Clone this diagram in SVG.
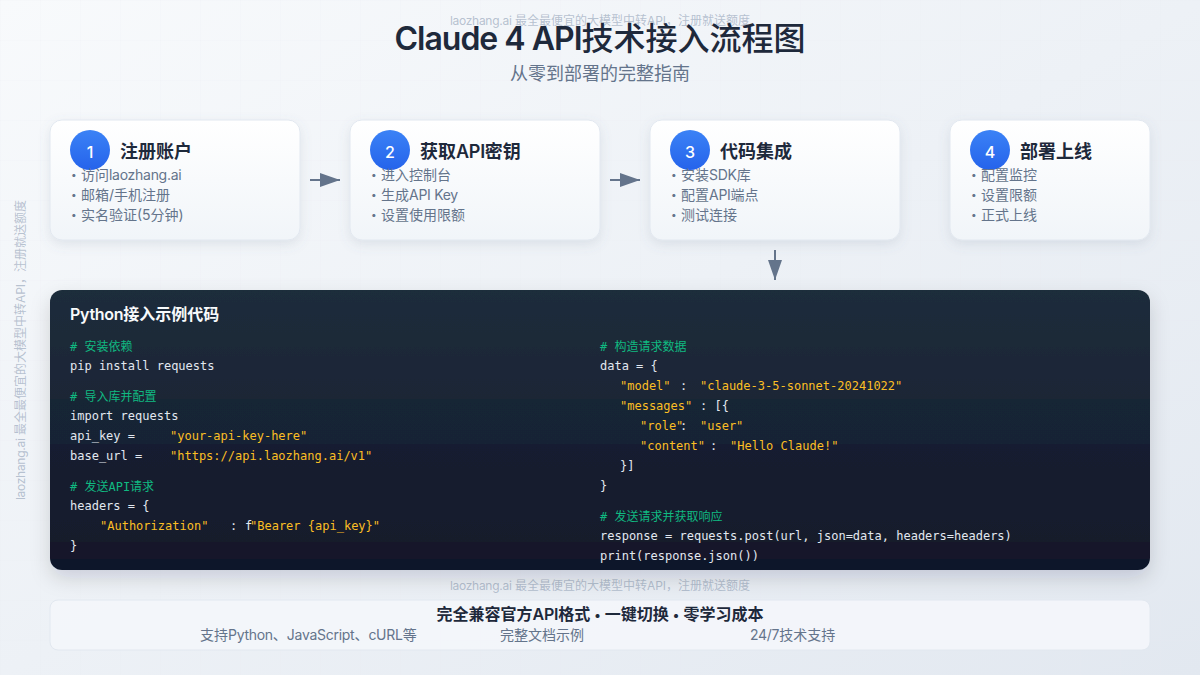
<svg xmlns="http://www.w3.org/2000/svg" width="1200" height="675" viewBox="0 0 1200 675">
<defs>
<linearGradient id="bg" x1="0" y1="0" x2="1" y2="1"><stop offset="0" stop-color="#f8fafc"/><stop offset="1" stop-color="#e2e8f0"/></linearGradient>
<linearGradient id="card" x1="0" y1="0" x2="0" y2="1"><stop offset="0" stop-color="#ffffff"/><stop offset="1" stop-color="#f1f5f9"/></linearGradient>
<linearGradient id="num" x1="0" y1="0" x2="0" y2="1"><stop offset="0" stop-color="#3b82f6"/><stop offset="1" stop-color="#2563eb"/></linearGradient>
<linearGradient id="code" x1="0" y1="0" x2="0" y2="1">
<stop offset="0" stop-color="#1f2d3b"/><stop offset=".39" stop-color="#1e2536"/><stop offset=".39" stop-color="#182536"/><stop offset=".55" stop-color="#182434"/><stop offset=".55" stop-color="#171c30"/><stop offset=".9" stop-color="#181e2c"/><stop offset=".9" stop-color="#18172a"/><stop offset=".96" stop-color="#18162a"/><stop offset=".96" stop-color="#0c172b"/><stop offset="1" stop-color="#0c162a"/></linearGradient>
<pattern id="grid" width="40" height="40" patternUnits="userSpaceOnUse"><path d="M40 0H0V40" fill="none" stroke="#e2e8f0" stroke-width="0.5" stroke-opacity="0.5"/></pattern>
<filter id="sh" x="-20%" y="-20%" width="140%" height="150%"><feDropShadow dx="0" dy="4" stdDeviation="6" flood-color="#64748b" flood-opacity="0.15"/></filter>
<filter id="shc" x="-5%" y="-10%" width="110%" height="125%"><feDropShadow dx="0" dy="8" stdDeviation="10" flood-color="#0f172a" flood-opacity="0.15"/></filter>
<marker id="ah" markerWidth="10" markerHeight="7" refX="10" refY="3.5" orient="auto"><polygon points="0 0,10 3.5,0 7" fill="#64748b"/></marker>
</defs>
<style>
text{font-family:Inter,"Noto Sans CJK SC",sans-serif}
.wm{font-size:12px;fill:#94a3b8;fill-opacity:.65;text-anchor:middle}
.t{font-size:18px;font-weight:600;fill:#1e293b}
.n{font-size:16px;font-weight:500;fill:#fff;text-anchor:middle}
.b{font-size:14px;fill:#64748b}
.d{font-size:10px;fill:#64748b}
.l{letter-spacing:-.28px}
.card{fill:url(#card);stroke:#e2e8f0;stroke-width:1;filter:url(#sh)}
.c,.c text{font-family:"DejaVu Sans Mono","Noto Sans CJK SC",monospace;font-size:12px}
.k{fill:#e2e8f0}.s{fill:#fbbf24}.g{fill:#10b981}
.f{font-size:14px;fill:#64748b}
</style>
<rect width="1200" height="675" fill="url(#bg)"/>
<rect width="1200" height="675" fill="url(#grid)"/>
<text class="wm" x="600" y="25"><tspan class="l">laozhang.ai</tspan> 最全最便宜的大模型中转API，注册就送额度</text>
<text class="wm" x="600" y="590"><tspan class="l">laozhang.ai</tspan> 最全最便宜的大模型中转API，注册就送额度</text>
<text class="wm" transform="translate(25 350) rotate(-90)"><tspan class="l">laozhang.ai</tspan> 最全最便宜的大模型中转API，注册就送额度</text>
<text x="600" y="50" text-anchor="middle" font-size="32" font-weight="500" fill="#1e293b"><tspan font-weight="600" letter-spacing="-1">Claude 4 API</tspan>技术接入流程图</text>
<text x="600" y="80" text-anchor="middle" font-size="18" fill="#64748b">从零到部署的完整指南</text>
<g id="step1"><rect class="card" x="50" y="120" width="250" height="120" rx="12"/><circle cx="90" cy="150" r="20" fill="url(#num)"/><text class="n" x="90" y="158">1</text><text class="t" x="120" y="158">注册账户</text><text class="d" x="71" y="178">•</text><text class="b" x="81" y="180">访问<tspan class="l">laozhang.ai</tspan></text><text class="d" x="71" y="198">•</text><text class="b" x="81" y="200">邮箱/手机注册</text><text class="d" x="71" y="218">•</text><text class="b" x="81" y="220">实名验证(5分钟)</text></g>
<g id="step2"><rect class="card" x="350" y="120" width="250" height="120" rx="12"/><circle cx="390" cy="150" r="20" fill="url(#num)"/><text class="n" x="390" y="158">2</text><text class="t" x="420" y="158">获取<tspan class="l">API</tspan>密钥</text><text class="d" x="371" y="178">•</text><text class="b" x="381" y="180">进入控制台</text><text class="d" x="371" y="198">•</text><text class="b" x="381" y="200">生成<tspan class="l">API Key</tspan></text><text class="d" x="371" y="218">•</text><text class="b" x="381" y="220">设置使用限额</text></g>
<g id="step3"><rect class="card" x="650" y="120" width="250" height="120" rx="12"/><circle cx="690" cy="150" r="20" fill="url(#num)"/><text class="n" x="690" y="158">3</text><text class="t" x="720" y="158">代码集成</text><text class="d" x="671" y="178">•</text><text class="b" x="681" y="180">安装<tspan class="l">SDK</tspan>库</text><text class="d" x="671" y="198">•</text><text class="b" x="681" y="200">配置<tspan class="l">API</tspan>端点</text><text class="d" x="671" y="218">•</text><text class="b" x="681" y="220">测试连接</text></g>
<g id="step4"><rect class="card" x="950" y="120" width="200" height="120" rx="12"/><circle cx="990" cy="150" r="20" fill="url(#num)"/><text class="n" x="990" y="158">4</text><text class="t" x="1020" y="158">部署上线</text><text class="d" x="971" y="178">•</text><text class="b" x="981" y="180">配置监控</text><text class="d" x="971" y="198">•</text><text class="b" x="981" y="200">设置限额</text><text class="d" x="971" y="218">•</text><text class="b" x="981" y="220">正式上线</text></g>
<g id="connectors" stroke="#64748b" stroke-width="2" fill="none"><line x1="310" y1="180" x2="340" y2="180" marker-end="url(#ah)"/><line x1="610" y1="180" x2="640" y2="180" marker-end="url(#ah)"/><line x1="775" y1="250" x2="775" y2="280" marker-end="url(#ah)"/></g>
<g id="code-panel"><rect x="50" y="290" width="1100" height="280" rx="12" fill="url(#code)" filter="url(#shc)"/>
<text x="70" y="320" font-size="16" font-weight="600" fill="#f8fafc"><tspan class="l">Python</tspan>接入示例代码</text>
<g class="c">
<text class="g" x="70" y="350.5"># 安装依赖</text>
<text class="k" x="70" y="370">pip install requests</text>
<text class="g" x="70" y="400.5"># 导入库并配置</text>
<text class="k" x="70" y="420">import requests</text>
<text class="k" x="70" y="440">api_key =</text><text class="s" x="170" y="440">"your-api-key-here"</text>
<text class="k" x="70" y="460">base_url =</text><text class="s" x="170" y="460">"https://api.laozhang.ai/v1"</text>
<text class="g" x="70" y="490.5"># 发送API请求</text>
<text class="k" x="70" y="510">headers = {</text>
<text class="s" x="100" y="530">"Authorization"</text><text class="k" x="230" y="530">:</text><text class="k" x="245" y="530">f</text><text class="s" x="250" y="530">"Bearer {api_key}"</text>
<text class="k" x="70" y="550">}</text>
<text class="g" x="600" y="350.5"># 构造请求数据</text>
<text class="k" x="600" y="370">data = {</text>
<text class="s" x="620" y="390">"model"</text><text class="k" x="680" y="390">:</text><text class="s" x="700" y="390">"claude-3-5-sonnet-20241022"</text>
<text class="s" x="620" y="410">"messages"</text><text class="k" x="700" y="410">: [{</text>
<text class="s" x="640" y="430">"role"</text><text class="k" x="680" y="430">:</text><text class="s" x="700" y="430">"user"</text>
<text class="s" x="640" y="450">"content"</text><text class="k" x="710" y="450">:</text><text class="s" x="730" y="450">"Hello Claude!"</text>
<text class="k" x="620" y="470">}]</text>
<text class="k" x="600" y="490">}</text>
<text class="g" x="600" y="520.5"># 发送请求并获取响应</text>
<text class="k" x="600" y="540">response = requests.post(url, json=data, headers=headers)</text>
<text class="k" x="600" y="560">print(response.json())</text>
</g></g>
<g id="footer"><rect x="50" y="600" width="1100" height="50" rx="8" fill="#f3f6fa" fill-opacity=".95" stroke="#e2e8f0"/>
<text x="600" y="620" text-anchor="middle" font-size="16" font-weight="600" fill="#1e293b">完全兼容官方<tspan class="l">API</tspan>格式 <tspan font-size="13">•</tspan> 一键切换 <tspan font-size="13">•</tspan> 零学习成本</text>
<text class="f" x="200" y="640">支持<tspan class="l">Python</tspan>、<tspan class="l">JavaScript</tspan>、<tspan class="l">cURL</tspan>等</text><text class="f" x="500" y="640">完整文档示例</text><text class="f" x="750" y="640"><tspan class="l">24/7</tspan>技术支持</text></g>
</svg>
